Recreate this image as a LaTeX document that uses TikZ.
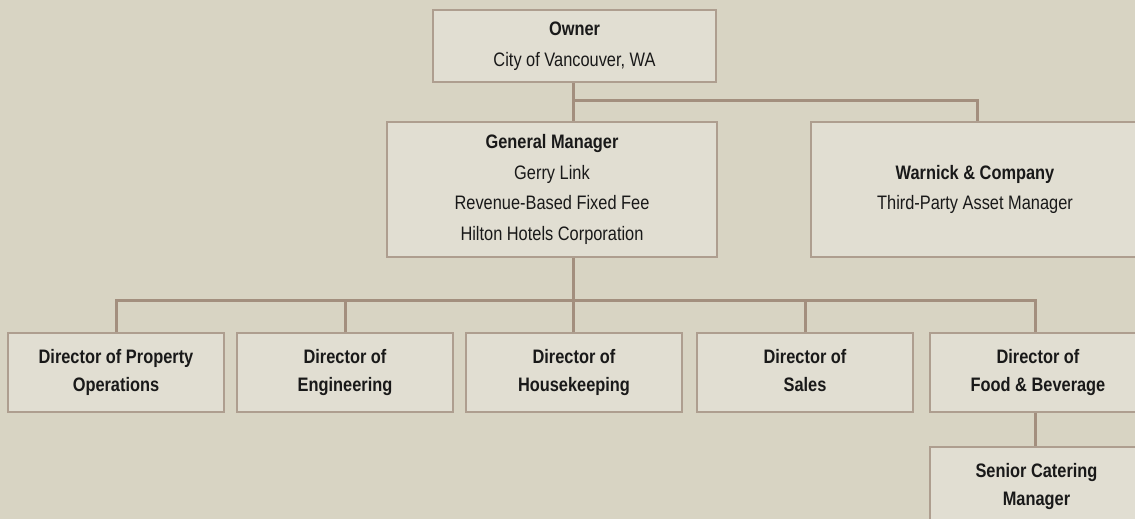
\documentclass[tikz,border=0pt]{standalone}
\usepackage{fontspec}
\setmainfont{Liberation Sans}[FakeStretch=0.84]
\definecolor{bgc}{HTML}{D8D4C3}
\definecolor{boxc}{HTML}{E1DED2}
\definecolor{linec}{HTML}{A38F7E}
\definecolor{borderc}{HTML}{AE9E8F}
\begin{document}
\begin{tikzpicture}[x=1pt,y=-1pt,
  orgbox/.style={draw=borderc, line width=1.6pt, fill=boxc, inner sep=0pt, align=center,
    font=\fontsize{19.5}{30.5}\selectfont, text=black!90},
  dirbox/.style={orgbox, font=\fontsize{19.5}{28.5}\selectfont\bfseries,
    minimum width=216pt, minimum height=79pt},
  link/.style={draw=linec, line width=3pt}
]
\fill[bgc] (0,0) rectangle (1135,519);
\useasboundingbox (0,0) rectangle (1135,519);

\node[orgbox, minimum width=283pt, minimum height=72pt] (owner) at (574.5,46)
  {\textbf{Owner}\\City of Vancouver, WA};
\node[orgbox, minimum width=330pt, minimum height=135pt] (gm) at (552,189.5)
  {\textbf{General Manager}\\Gerry Link\\Revenue-Based Fixed Fee\\Hilton Hotels Corporation};
\node[orgbox, minimum width=328pt, minimum height=135pt] (warnick) at (975,189.5)
  {\textbf{Warnick \& Company}\\Third-Party Asset Manager};

\node[dirbox] (d1) at (116,372.5) {Director of Property\\Operations};
\node[dirbox] (d2) at (345,372.5) {Director of\\Engineering};
\node[dirbox] (d3) at (574,372.5) {Director of\\Housekeeping};
\node[dirbox] (d4) at (805,372.5) {Director of\\Sales\vphantom{g}};
\node[dirbox] (d5) at (1038,372.5) {Director of\\Food \& Beverage};
\node[dirbox, minimum width=213pt] (scm) at (1036.5,486.5) {Senior Catering\\Manager};

\coordinate (topY) at (0,100);
\coordinate (busY) at (0,300);

% owner connections
\draw[link] (owner.south -| 573,0) -- (573,0 |- gm.north);
\draw[link] (573,0 |- topY) -- (977,0 |- topY) -- (977,0 |- warnick.north);
% general manager down to bus
\draw[link] (573,0 |- gm.south) -- (573,0 |- busY);
% bus
\draw[link] (d1.north) -- (d1.north |- busY) -- (1035,0 |- busY) -- (1035,0 |- d5.north);
\draw[link] (d2.north) -- (d2.north |- busY);
\draw[link] (d3.north -| 573,0) -- (573,0 |- busY);
\draw[link] (d4.north) -- (d4.north |- busY);
% F&B to senior catering
\draw[link] (1035,0 |- d5.south) -- (1035,0 |- scm.north);
\end{tikzpicture}
\end{document}
